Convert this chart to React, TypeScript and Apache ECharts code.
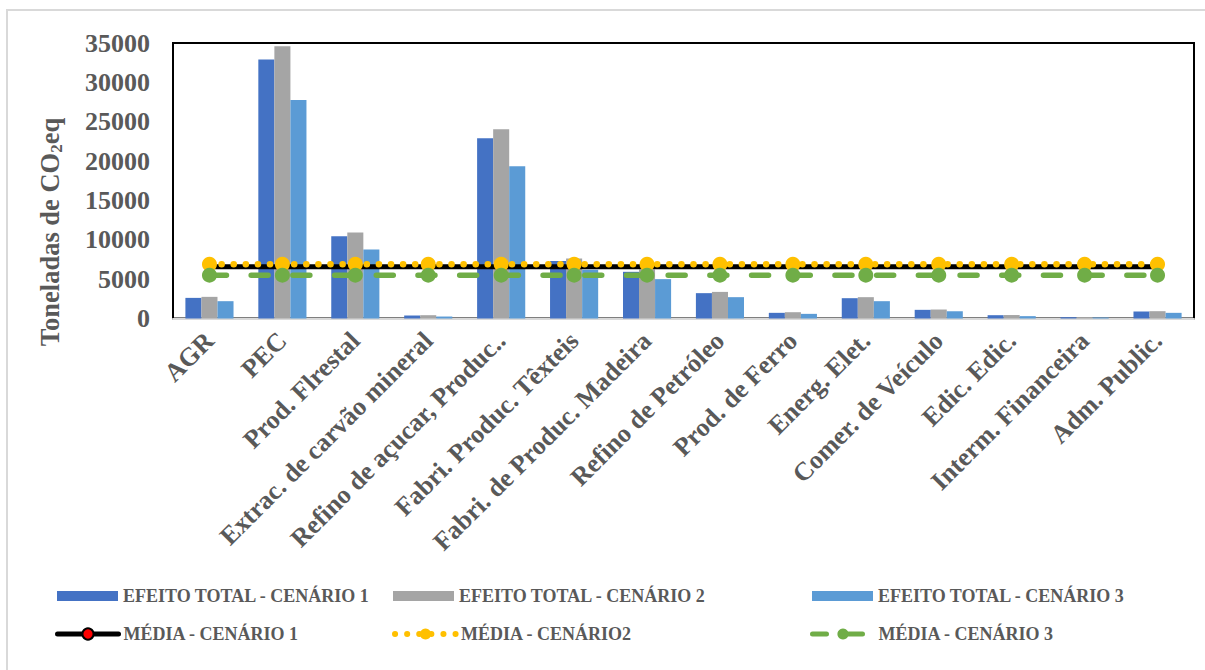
import React, { useEffect, useRef } from "react";
import * as echarts from "echarts";

const categories = [
  "AGR",
  "PEC",
  "Prod. Flrestal",
  "Extrac. de carvão mineral",
  "Refino de açucar, Produc..",
  "Fabri. Produc. Têxteis",
  "Fabri. de Produc. Madeira",
  "Refino de Petróleo",
  "Prod. de Ferro",
  "Energ. Elet.",
  "Comer. de Veículo",
  "Edic. Edic.",
  "Interm. Financeira",
  "Adm. Public.",
];

const yTicks = [0, 5000, 10000, 15000, 20000, 25000, 30000, 35000];

const efeitoC1 = [2620, 32900, 10460, 380, 22900, 7320, 5930, 3220, 720, 2580, 1100, 420, 165, 890];
const efeitoC2 = [2750, 34600, 10930, 420, 24050, 7630, 6230, 3380, 800, 2710, 1140, 440, 180, 930];
const efeitoC3 = [2200, 27750, 8770, 250, 19350, 6190, 5000, 2710, 590, 2200, 920, 300, 130, 720];

const mediaC1 = [6560, 6560, 6560, 6560, 6560, 6560, 6560, 6560, 6560, 6560, 6560, 6560, 6560, 6560];
const mediaC2 = [6900, 6900, 6900, 6900, 6900, 6900, 6900, 6900, 6900, 6900, 6900, 6900, 6900, 6900];
const mediaC3 = [5510, 5510, 5510, 5510, 5510, 5510, 5510, 5510, 5510, 5510, 5510, 5510, 5510, 5510];

const seriesNames = [
  "EFEITO TOTAL - CENÁRIO 1",
  "EFEITO TOTAL - CENÁRIO 2",
  "EFEITO TOTAL - CENÁRIO 3",
  "MÉDIA - CENÁRIO 1",
  "MÉDIA - CENÁRIO2",
  "MÉDIA - CENÁRIO 3",
];

const FONT = "'Liberation Serif', 'Times New Roman', serif";
const TXT = "#595959";

export default function App() {
  const ref = useRef<HTMLDivElement>(null);

  useEffect(() => {
    if (!ref.current) return;
    const chart = echarts.init(ref.current, undefined, { renderer: "svg" });

    const legendText = { fontFamily: FONT, fontSize: 18, fontWeight: "bold", color: TXT };
    const legendPos = [
      { left: 57, top: 587 },
      { left: 393, top: 587 },
      { left: 812, top: 587 },
      { left: 55, top: 625 },
      { left: 392, top: 625 },
      { left: 810, top: 625 },
    ];
    const legendLines = [
      null,
      null,
      null,
      { width: 5, color: "#000", type: "solid", cap: "round" },
      { width: 6, color: "#FFC000", type: [0.1, 12], cap: "round" },
      { width: 5, color: "#70AD47", type: [14, 22], cap: "round" },
    ];
    const legends = seriesNames.map((n, i) => {
      const l: any = {
        data: [n],
        left: legendPos[i].left,
        top: legendPos[i].top,
        padding: 0,
        itemWidth: 61,
        itemHeight: i < 3 ? 10 : 14,
        textStyle: legendText,
        selectedMode: false,
      };
      if (i < 3) l.icon = "rect";
      else l.lineStyle = legendLines[i];
      return l;
    });

    chart.setOption({
      animation: false,
      backgroundColor: "#fff",
      grid: {
        left: 173,
        right: 11,
        top: 43,
        bottom: 351.5,
        show: true,
        borderColor: "#000",
        borderWidth: 2,
        containLabel: false,
      },
      legend: legends,
      graphic: [
        {
          type: "rect",
          shape: { x: 7, y: 10, width: 1210, height: 680 },
          style: { fill: "none", stroke: "#D9D9D9", lineWidth: 2 },
          silent: true,
        },
        {
          type: "text",
          x: 50,
          y: 232,
          rotation: Math.PI / 2,
          style: {
            text: "{a|Toneladas de CO}{b|2}{a|eq}",
            align: "center",
            verticalAlign: "middle",
            rich: {
              a: { fontFamily: FONT, fontSize: 26.5, fontWeight: "bold", fill: TXT, lineHeight: 30 },
              b: {
                fontFamily: FONT,
                fontSize: 17,
                fontWeight: "bold",
                fill: TXT,
                lineHeight: 14,
                verticalAlign: "bottom",
              },
            },
          },
        },
      ],
      xAxis: {
        type: "category",
        data: categories,
        axisTick: { show: false },
        axisLine: { show: true, lineStyle: { color: "#D9D9D9", width: 2 } },
        axisLabel: {
          interval: 0,
          rotate: 45,
          margin: 18,
          fontFamily: FONT,
          fontSize: 26,
          fontWeight: "bold",
          color: TXT,
        },
      },
      yAxis: {
        type: "value",
        min: yTicks[0],
        max: yTicks[yTicks.length - 1],
        interval: yTicks[1] - yTicks[0],
        splitLine: { show: false },
        axisLine: { show: false },
        axisTick: { show: false },
        axisLabel: {
          margin: 23,
          fontFamily: FONT,
          fontSize: 26,
          fontWeight: "bold",
          color: TXT,
          formatter: (v: number) => String(v),
        },
      },
      series: [
        {
          name: seriesNames[0],
          type: "bar",
          data: efeitoC1,
          barGap: "0%",
          barCategoryGap: "34%",
          itemStyle: { color: "#4472C4" },
        },
        {
          name: seriesNames[1],
          type: "bar",
          data: efeitoC2,
          barGap: "0%",
          barCategoryGap: "34%",
          itemStyle: { color: "#A5A5A5" },
        },
        {
          name: seriesNames[2],
          type: "bar",
          data: efeitoC3,
          barGap: "0%",
          barCategoryGap: "34%",
          itemStyle: { color: "#5B9BD5" },
        },
        {
          name: seriesNames[3],
          type: "line",
          data: mediaC1,
          symbol: "circle",
          symbolSize: 9,
          itemStyle: { color: "#FF0000", borderColor: "#000", borderWidth: 1.5 },
          lineStyle: { color: "#000", width: 5, cap: "round" },
          z: 3,
        },
        {
          name: seriesNames[4],
          type: "line",
          data: mediaC2,
          symbol: "circle",
          symbolSize: 15,
          itemStyle: { color: "#FFC000" },
          lineStyle: { color: "#FFC000", width: 6.5, type: [0.1, 12], cap: "round" },
          z: 4,
        },
        {
          name: seriesNames[5],
          type: "line",
          data: mediaC3,
          symbol: "circle",
          symbolSize: 15,
          itemStyle: { color: "#70AD47" },
          lineStyle: { color: "#70AD47", width: 5.5, type: [17, 24.7], cap: "round" },
          z: 5,
        },
      ],
    });

    return () => chart.dispose();
  }, []);

  return (
    <div
      ref={ref}
      style={{ position: "absolute", left: 0, top: 0, width: 1205, height: 670 }}
    />
  );
}
